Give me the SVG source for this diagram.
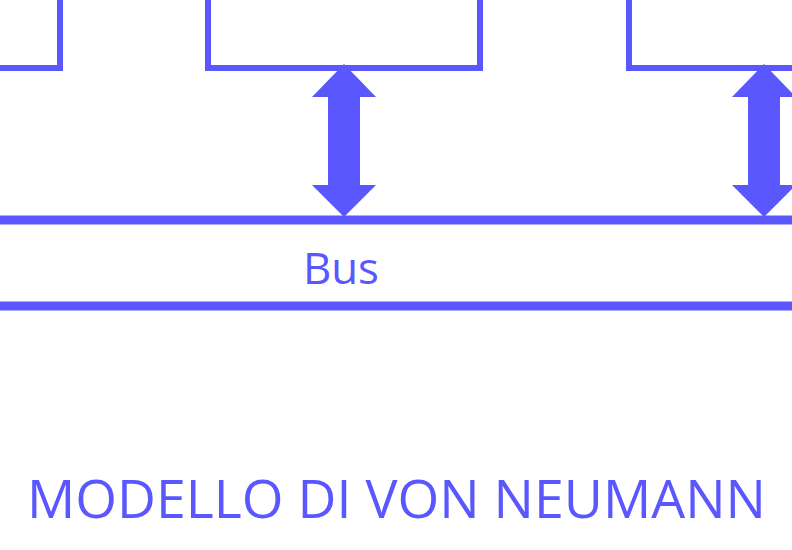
<svg xmlns="http://www.w3.org/2000/svg" width="792" height="550" viewBox="0 0 792 550">
  <defs>
    <style>
      .box { fill: none; stroke: #5A57FF; stroke-width: 6; }
      .bus { stroke: #5A57FF; stroke-width: 9; }
      .arrow { fill: #5A57FF; }
      .label { fill: #5A57FF; font-family: "Open Sans", "Noto Sans", sans-serif; }
    </style>
    <polygon id="dblarrow" class="arrow" points="0,-1 32,32 16,32 16,120 32,120 0,152 -32,120 -16,120 -16,32 -32,32"/>
  </defs>
  <rect width="792" height="550" fill="#ffffff"/>

  <g id="node-left">
    <rect class="box" x="-200" y="-100" width="260" height="168"/>
  </g>
  <g id="node-middle">
    <rect class="box" x="208" y="-100" width="272" height="168"/>
  </g>
  <g id="node-right">
    <rect class="box" x="629" y="-100" width="300" height="168"/>
  </g>

  <g id="bus">
    <line class="bus" x1="-10" y1="220" x2="802" y2="220"/>
    <line class="bus" x1="-10" y1="306" x2="802" y2="306"/>
    <text class="label" x="303" y="283.5" font-size="44" textLength="76" lengthAdjust="spacingAndGlyphs">Bus</text>
  </g>

  <g id="connectors">
    <use href="#dblarrow" x="344" y="65"/>
    <use href="#dblarrow" x="764" y="65"/>
  </g>

  <g id="title">
    <text class="label" x="27" y="517.5" font-size="53" textLength="739" lengthAdjust="spacingAndGlyphs">MODELLO DI VON NEUMANN</text>
  </g>
</svg>
